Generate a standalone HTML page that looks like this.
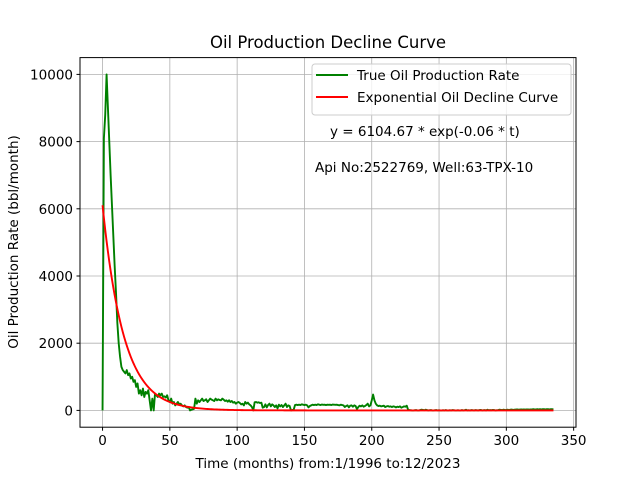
<!DOCTYPE html>
<html><head><meta charset="utf-8"><style>
body{margin:0;background:#fff}
svg{display:block;font-family:"DejaVu Sans","Liberation Sans",sans-serif}
</style></head><body>
<svg id="chart" width="640" height="480" viewBox="0 0 640 480">
<rect width="640" height="480" fill="#fff"/>
<text x="328" y="48" font-size="16.5" text-anchor="middle">Oil Production Decline Curve</text>
<g id="grid"></g>
<g id="series"></g>
<rect x="80" y="57.6" width="496" height="369.6" fill="none" stroke="#000" stroke-width="1"/>
<g id="ticks"></g>
<text x="328" y="468" font-size="13.5" text-anchor="middle">Time (months) from:1/1996 to:12/2023</text>
<text transform="translate(18,242) rotate(-90)" font-size="13.5" text-anchor="middle">Oil Production Rate (bbl/month)</text>
<g>
<rect x="312" y="64" width="259" height="51" rx="3" fill="#fff" fill-opacity="0.8" stroke="#ccc"/>
<line x1="316" y1="75" x2="348" y2="75" stroke="green" stroke-width="1.9"/>
<text x="357" y="80" font-size="13.5">True Oil Production Rate</text>
<line x1="316" y1="97" x2="348" y2="97" stroke="red" stroke-width="1.9"/>
<text x="357" y="102" font-size="13.5">Exponential Oil Decline Curve</text>
</g>
<text x="330" y="136" font-size="13.5">y = 6104.67 * exp(-0.06 * t)</text>
<text x="315" y="172" font-size="13.5">Api No:2522769, Well:63-TPX-10</text>
</svg>
<script>
const oilRate = [
0,8100,8800,10000,9000,8000,7000,6100,5200,4300,3500,2600,
2000,1600,1300,1200,1150,1100,1200,1050,1100,950,1000,850,
900,700,800,500,600,450,650,400,550,500,600,300,
0,350,0,500,450,400,500,450,500,400,420,380,
450,300,250,350,200,250,150,200,250,180,200,150,
120,150,100,80,100,0,20,30,50,350,200,300,
250,300,350,280,300,330,250,300,350,320,300,280,
350,300,330,310,300,350,320,280,300,260,300,250,
280,230,250,200,230,250,220,180,200,150,250,200,
230,180,150,100,0,240,250,230,240,220,230,80,
100,180,90,160,200,120,180,150,100,150,60,170,
120,160,100,150,200,100,150,130,0,10,20,160,
170,160,170,160,180,170,160,170,150,90,130,150,
170,160,170,160,180,170,160,175,165,170,160,170,
165,170,160,175,170,165,170,160,150,170,160,150,
100,130,150,90,140,150,110,150,130,40,100,140,
120,150,110,130,160,200,120,150,300,470,300,200,
150,130,140,120,130,140,100,120,130,110,120,100,
120,110,90,110,100,120,80,100,120,110,140,20,
10,5,0,0,5,10,0,0,10,20,15,5,
20,10,0,5,10,0,0,5,10,0,5,0,
0,5,0,10,0,0,5,0,10,5,0,0,
5,0,0,10,0,5,20,0,5,0,10,5,
0,10,5,0,10,15,0,5,10,0,20,5,
10,5,15,10,0,5,10,20,15,10,20,10,
15,20,10,20,25,15,20,25,30,20,25,30,
25,30,25,30,30,25,30,30,35,30,30,35,
30,35,30,35,35,30,35,35,30,35,35,30];
const fitA = 6104.67;
const fitK = 0.064;
const xTicks = [0,50,100,150,200,250,300,350];
const yTicks = [0,2000,4000,6000,8000,10000];

const NS="http://www.w3.org/2000/svg";
const X0=80,X1=576,Y0=57.6,Y1=427.2;
const xMin=-16.75,xMax=351.75,yMin=-500,yMax=10500;
const sx=v=>X0+(v-xMin)/(xMax-xMin)*(X1-X0);
const sy=v=>Y1-(v-yMin)/(yMax-yMin)*(Y1-Y0);
function mk(tag,attrs,parent){const e=document.createElementNS(NS,tag);for(const k in attrs)e.setAttribute(k,attrs[k]);parent.appendChild(e);return e;}
const grid=document.getElementById('grid'),ticks=document.getElementById('ticks'),series=document.getElementById('series');
xTicks.forEach(t=>{const x=sx(t);
 const g=mk('line',{x1:x,x2:x,y1:Y0,y2:Y1,stroke:'#b0b0b0','stroke-width':0.8},grid);
 
 
 const tk=mk('line',{x1:x,x2:x,y1:Y1,y2:Y1+3.5,stroke:'#000'},ticks);
 
 
 const lb=mk('text',{x:x,y:Y1+18,'font-size':13.5,'text-anchor':'middle'},ticks);lb.textContent=t;
 
 
});
yTicks.forEach(t=>{const y=sy(t);
 const g=mk('line',{x1:X0,x2:X1,y1:y,y2:y,stroke:'#b0b0b0','stroke-width':0.8},grid);
 
 
 const tk=mk('line',{x1:X0-3.5,x2:X0,y1:y,y2:y,stroke:'#000'},ticks);
 
 
 const lb=mk('text',{x:X0-7,y:y+5,'font-size':13.5,'text-anchor':'end'},ticks);lb.textContent=t;
 
 
});
const tp=mk('polyline',{points:oilRate.map((v,i)=>sx(i)+','+sy(v)).join(' '),fill:'none',stroke:'green','stroke-width':1.9,'stroke-linejoin':'round'},series);


const fp=mk('polyline',{points:oilRate.map((v,i)=>sx(i)+','+sy(fitA*Math.exp(-fitK*i))).join(' '),fill:'none',stroke:'red','stroke-width':1.9},series);


</script>
</body></html>
